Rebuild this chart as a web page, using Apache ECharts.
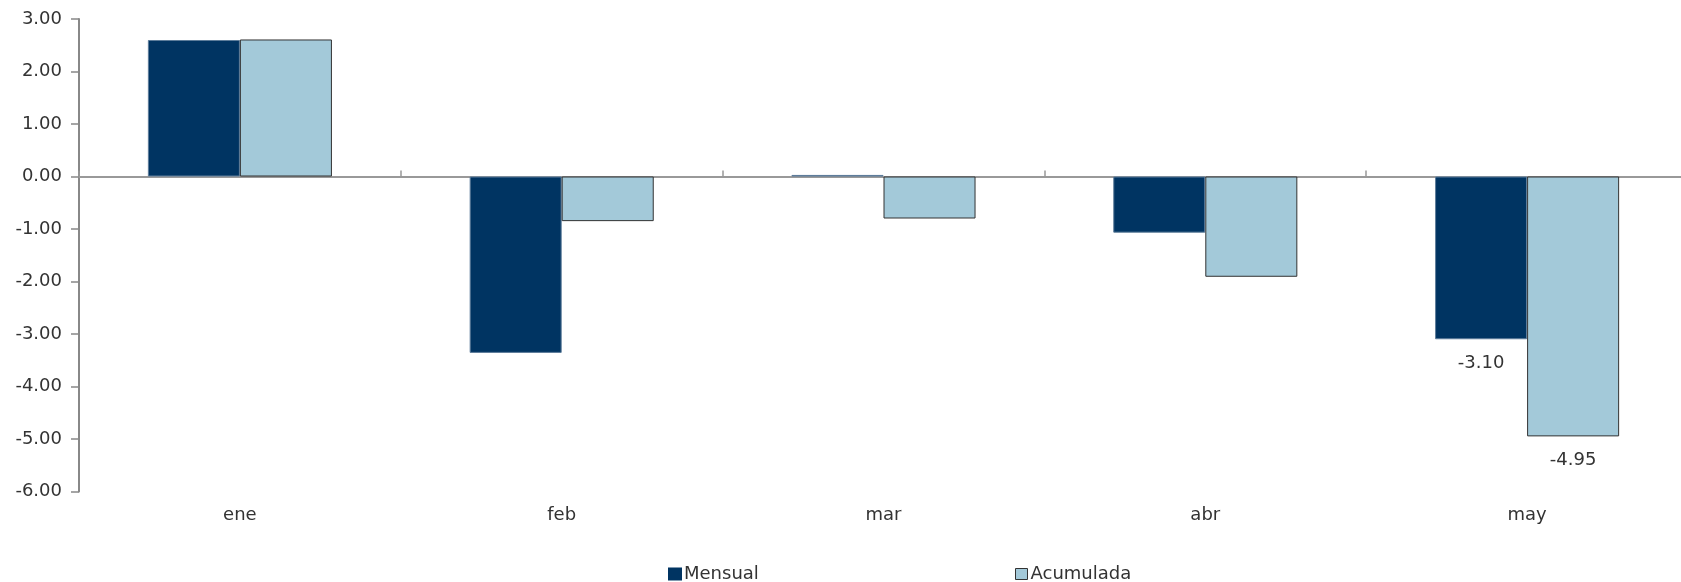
<!DOCTYPE html>
<html><head><meta charset="utf-8">
<script src="https://cdn.jsdelivr.net/npm/echarts@6/dist/echarts.min.js"></script>
<style>html,body{margin:0;padding:0;background:#fff}#c{width:1681px;height:582px}</style>
</head><body><div id="c"></div>
<script>
const categories = ['ene', 'feb', 'mar', 'abr', 'may'];
const mensual = [2.60, -3.36, 0.03, -1.07, -3.10];
const acumulada = [2.61, -0.85, -0.80, -1.91, -4.95];
const labelIndex = 4;

const FONT = '"DejaVu Sans", sans-serif';
const FS = 18;
const chart = echarts.init(document.getElementById('c'));
function lbl(i){ return i === labelIndex; }
const legendText = { fontFamily: FONT, fontSize: FS, color: '#333', padding: [0,0,0,-2] };
chart.setOption({
  animation: false,
  grid: { left: 79, top: 19, width: 1609, height: 472.5, containLabel: false, outerBoundsMode: 'none' },
  legend: [
    { left: 668, top: 565, padding: 0, itemWidth: 12, itemHeight: 11, icon: 'rect', textStyle: legendText,
      data: [{ name: 'Mensual', itemStyle: { color: '#003462', borderColor: '#003462' } }] },
    { left: 1015, top: 565, padding: 0, itemWidth: 12, itemHeight: 11, icon: 'rect', textStyle: legendText,
      data: [{ name: 'Acumulada', itemStyle: { color: '#A3C9D9', borderColor: '#333', borderWidth: 1 } }] }
  ],
  xAxis: [
    { type: 'category', data: categories,
      axisLine: { onZero: true, lineStyle: { color: '#999', width: 2 } },
      axisTick: { show: true, inside: true, length: 6, lineStyle: { color: '#999', width: 1.5 } },
      axisLabel: { show: false } },
    { type: 'category', data: categories, position: 'bottom',
      axisLine: { show: false, onZero: false }, axisTick: { show: false },
      axisLabel: { margin: 15, fontFamily: FONT, fontSize: FS, color: '#333' } }
  ],
  yAxis: {
    type: 'value', min: -6, max: 3, interval: 1,
    splitLine: { show: false },
    axisLine: { show: true, lineStyle: { color: '#888', width: 2 } },
    axisTick: { show: true, length: 8, lineStyle: { color: '#888', width: 1.5 } },
    axisLabel: { margin: 17, fontFamily: FONT, fontSize: FS, color: '#333', formatter: v => v.toFixed(2) }
  },
  series: [
    { name: 'Mensual', type: 'bar', xAxisIndex: 0, barGap: '0%', barCategoryGap: '42.8%',
      itemStyle: { color: '#003462', borderColor: '#5d7d9b', borderWidth: 1 },
      data: mensual.map((v,i) => ({ value: v, label: { show: lbl(i) } })),
      label: { position: 'bottom', distance: 15, fontFamily: FONT, fontSize: FS, color: '#333', formatter: p => p.value.toFixed(2) } },
    { name: 'Acumulada', type: 'bar', xAxisIndex: 0, barGap: '0%', barCategoryGap: '42.8%',
      itemStyle: { color: '#A3C9D9', borderColor: '#333', borderWidth: 1 },
      data: acumulada.map((v,i) => ({ value: v, label: { show: lbl(i) } })),
      label: { position: 'bottom', distance: 15, fontFamily: FONT, fontSize: FS, color: '#333', formatter: p => p.value.toFixed(2) } }
  ]
});
</script></body></html>
